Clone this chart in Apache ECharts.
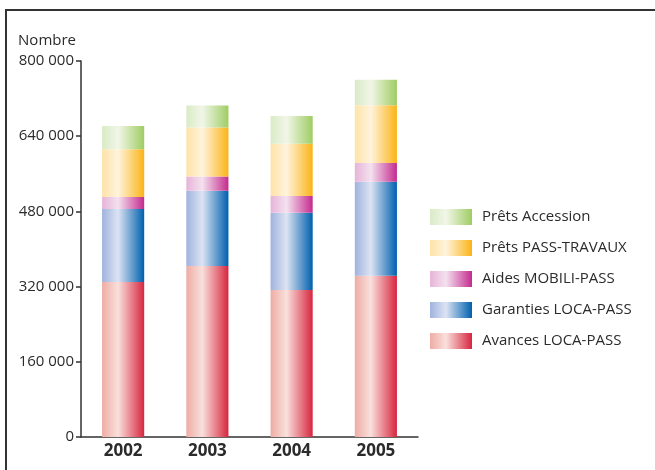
<!DOCTYPE html>
<html>
<head>
<meta charset="utf-8">
<script src="https://cdn.jsdelivr.net/npm/echarts@6/dist/echarts.min.js"></script>
<style>
  html, body { margin: 0; padding: 0; background: #fff; }
  #chart { width: 655px; height: 470px; }
</style>
</head>
<body>
<div id="chart"></div>
<script>
// données
const years = ['2002', '2003', '2004', '2005']
const avancesLocaPass = [330000, 364000, 313000, 343000]
const garantiesLocaPass = [155000, 160000, 164000, 200000]
const aidesMobiliPass = [25500, 30000, 36000, 40000]
const pretsPassTravaux = [102000, 104500, 111000, 123000]
const pretsAccession = [49000, 47000, 59000, 54000]
const legendOrder = ['Prêts Accession', 'Prêts PASS-TRAVAUX', 'Aides MOBILI-PASS', 'Garanties LOCA-PASS', 'Avances LOCA-PASS']

const textColor = '#2b2b2b'
const font = 'Open Sans'

// dégradé horizontal : clair -> reflet -> saturé
const grad = (left, mid, right) => new echarts.graphic.LinearGradient(0, 0, 1, 0, [
  { offset: 0, color: left },
  { offset: 0.38, color: mid },
  { offset: 1, color: right }
])

const makeSeries = (name, data, color) => ({
  name,
  type: 'bar',
  stack: 'total',
  barWidth: '50%',
  data,
  itemStyle: { color }
})

const chart = echarts.init(document.getElementById('chart'))

chart.setOption({
  animation: false,
  textStyle: { fontFamily: font },
  grid: { left: 81, right: 237, top: 61, bottom: 33 },
  graphic: [{
    type: 'polyline',
    shape: { points: [[6, 470], [6, 10], [655, 10]] },
    style: { stroke: '#333', lineWidth: 2, fill: null }
  }],
  legend: {
    orient: 'vertical',
    left: 425,
    top: 204,
    itemWidth: 42,
    itemHeight: 16,
    itemGap: 15,
    icon: 'rect',
    data: legendOrder,
    textStyle: { color: textColor, fontSize: 15, fontFamily: font, padding: [0, 0, 0, 5] }
  },
  xAxis: {
    type: 'category',
    data: years,
    axisLine: { lineStyle: { color: '#333', width: 1.5 } },
    axisTick: { inside: true, length: 9, lineStyle: { color: '#333', width: 1.5 } },
    axisLabel: { color: textColor, fontSize: 17, fontWeight: 'bold', margin: 6, fontFamily: font }
  },
  yAxis: {
    type: 'value',
    min: 0,
    max: 800000,
    interval: 160000,
    name: 'Nombre',
    nameLocation: 'end',
    nameGap: 13,
    nameTextStyle: { color: textColor, fontSize: 15, align: 'right', padding: [0, 5, 0, 0], fontFamily: font },
    splitLine: { show: false },
    axisLine: { show: true, lineStyle: { color: '#333', width: 1.5 } },
    axisTick: { show: true, length: 5, lineStyle: { color: '#333', width: 1.5 } },
    axisLabel: {
      color: textColor,
      fontSize: 15,
      margin: 7,
      fontFamily: font,
      formatter: v => String(v).replace(/\B(?=(\d{3})+(?!\d))/g, ' ')
    }
  },
  series: [
    makeSeries('Avances LOCA-PASS', avancesLocaPass, grad('#eeaca4', '#f9e0dc', '#d7263f')),
    makeSeries('Garanties LOCA-PASS', garantiesLocaPass, grad('#a0b3de', '#dce3f3', '#0060ae')),
    makeSeries('Aides MOBILI-PASS', aidesMobiliPass, grad('#e6b4d8', '#f4e1ef', '#c42b8e')),
    makeSeries('Prêts PASS-TRAVAUX', pretsPassTravaux, grad('#fee3a8', '#fff3dc', '#fbb417')),
    makeSeries('Prêts Accession', pretsAccession, grad('#d9ebc6', '#f1f6e8', '#9fcd63'))
  ]
})
</script>
</body>
</html>
